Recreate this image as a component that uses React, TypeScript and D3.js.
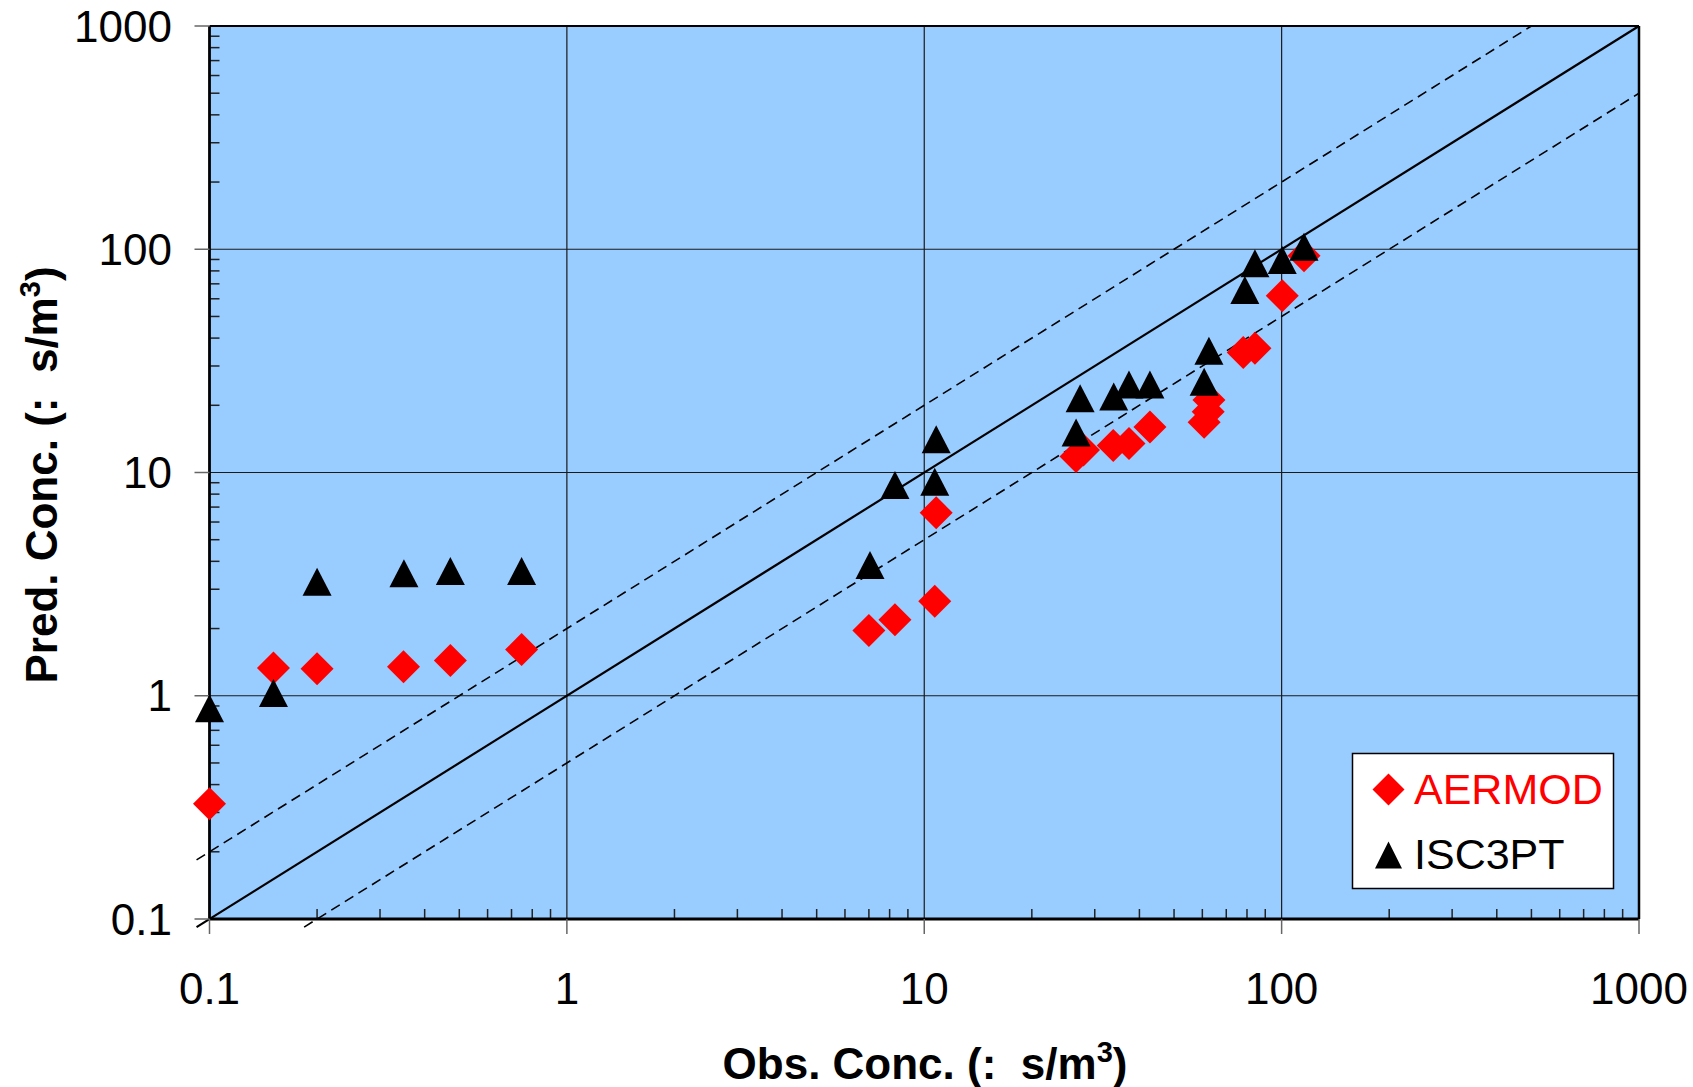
import React from "react";
import * as d3 from "d3";

const W = 1693;
const H = 1087;

const tickValues = [0.1, 1, 10, 100, 1000];
const tickLabels = ["0.1", "1", "10", "100", "1000"];

const aermodObs = [0.1, 0.151, 0.2, 0.349, 0.472, 0.747, 7.0, 8.28, 10.7, 10.8, 26.6, 27.9, 33.8, 37.4, 42.8, 60.7, 62.3, 62.6, 78.1, 84.2, 100.4, 115.5];
const aermodPred = [0.328, 1.33, 1.32, 1.35, 1.44, 1.61, 1.96, 2.19, 2.65, 6.6, 11.8, 12.6, 13.2, 13.5, 16.0, 16.8, 18.7, 21.1, 34.5, 36.0, 61.9, 93.6];

const iscObs = [0.1, 0.151, 0.2, 0.35, 0.472, 0.747, 7.05, 8.28, 10.7, 10.8, 26.6, 27.3, 33.9, 37.4, 42.8, 60.7, 62.6, 78.9, 84.2, 100.4, 115.5];
const iscPred = [0.879, 1.03, 3.24, 3.54, 3.62, 3.62, 3.85, 8.79, 9.1, 14.1, 15.1, 21.5, 21.9, 24.8, 24.8, 25.5, 35.1, 65.7, 86.5, 89.5, 102.7];

const seriesNames = ["AERMOD", "ISC3PT"];
const ratioLines = [1, 2, 0.5];

const FONT = "'Liberation Sans', Arial, Helvetica, sans-serif";

export default function App() {
  const left = 209.5, right = 1639, top = 26, bottom = 919;
  const x = d3.scaleLog().domain([0.1, 1000]).range([left, right]);
  const y = d3.scaleLog().domain([0.1, 1000]).range([bottom, top]);

  const minors: number[] = [];
  for (let dec = 0.1; dec < 1000; dec *= 10) {
    for (let k = 2; k <= 9; k++) minors.push(+(dec * k).toPrecision(6));
  }

  const diamond = (cx: number, cy: number, r: number) =>
    `M${cx},${cy - r}L${cx + r},${cy}L${cx},${cy + r}L${cx - r},${cy}Z`;
  const tri = (cx: number, cy: number, w: number, h: number) =>
    `M${cx},${cy - h / 2}L${cx + w / 2},${cy + h / 2}L${cx - w / 2},${cy + h / 2}Z`;

  const lineFor = (k: number) => {
    let x0 = 0.1, x1 = 1000;
    if (k * x0 < 0.1) x0 = 0.1 / k;
    if (k * x1 > 1000) x1 = 1000 / k;
    const ext = 0.92;
    const xs0 = x0 * ext;
    return { x1: x(xs0), y1: y(k * xs0), x2: x(x1), y2: y(k * x1) };
  };

  return (
    <svg width={W} height={H} style={{ position: "absolute", left: 0, top: 0, background: "#fff" }} fontFamily={FONT}>
      <rect x={left} y={top} width={right - left} height={bottom - top} fill="#99CCFF" />
      {tickValues.slice(1, -1).map((v) => (
        <g key={"g" + v}>
          <line x1={x(v)} x2={x(v)} y1={top} y2={bottom} stroke="#1a1a1a" strokeWidth={1.2} />
          <line x1={left} x2={right} y1={y(v)} y2={y(v)} stroke="#1a1a1a" strokeWidth={1.2} />
        </g>
      ))}
      {minors.map((v) => (
        <g key={"m" + v}>
          <line x1={left} x2={left + 10} y1={y(v)} y2={y(v)} stroke="#222" strokeWidth={1.5} />
          <line x1={x(v)} x2={x(v)} y1={bottom} y2={bottom - 10} stroke="#222" strokeWidth={1.5} />
        </g>
      ))}
      {ratioLines.map((k) => {
        const l = lineFor(k);
        return (
          <line key={"r" + k} {...l} stroke="#000" strokeWidth={k === 1 ? 2.2 : 1.6}
            strokeDasharray={k === 1 ? undefined : "10,6"} />
        );
      })}
      <line x1={left} x2={right} y1={top} y2={top} stroke="#000" strokeWidth={2} />
      <line x1={right} x2={right} y1={top} y2={bottom} stroke="#000" strokeWidth={2.5} />
      <line x1={left} x2={left} y1={top} y2={bottom} stroke="#000" strokeWidth={2.8} />
      <line x1={left} x2={right} y1={bottom} y2={bottom} stroke="#000" strokeWidth={2.8} />
      {tickValues.map((v) => (
        <g key={"t" + v}>
          <line x1={left - 15} x2={left} y1={y(v)} y2={y(v)} stroke="#666" strokeWidth={1.5} />
          <line x1={x(v)} x2={x(v)} y1={bottom} y2={bottom + 15} stroke="#666" strokeWidth={1.5} />
        </g>
      ))}
      {tickValues.map((v, i) => (
        <g key={"l" + v} fontSize={44} fill="#000">
          <text x={172} y={y(v) + 15.5} textAnchor="end">{tickLabels[i]}</text>
          <text x={x(v)} y={1004} textAnchor="middle">{tickLabels[i]}</text>
        </g>
      ))}
      {aermodObs.map((v, i) => (
        <path key={"a" + i} d={diamond(x(v), y(aermodPred[i]), 16.5)} fill="#FF0000" />
      ))}
      {iscObs.map((v, i) => (
        <path key={"i" + i} d={tri(x(v), y(iscPred[i]), 29, 28)} fill="#000" />
      ))}
      <rect x={1352.5} y={753.5} width={261} height={135} fill="#fff" stroke="#000" strokeWidth={1.5} />
      <path d={diamond(1388.5, 789.5, 16)} fill="#FF0000" />
      <text x={1414} y={803.5} fontSize={43} fill="#FF0000">{seriesNames[0]}</text>
      <path d={tri(1388.5, 855, 27, 27)} fill="#000" />
      <text x={1414} y={868.5} fontSize={43} fill="#000">{seriesNames[1]}</text>
      <text x={925} y={1079} textAnchor="middle" fontSize={44} fontWeight="bold" fill="#000">
        Obs. Conc. (:{"\u00A0 "}s/m<tspan dy={-17} fontSize={29}>3</tspan><tspan dy={17}>)</tspan>
      </text>
      <text transform="translate(57,475) rotate(-90)" textAnchor="middle" fontSize={44} fontWeight="bold" fill="#000">
        Pred. Conc. (:{"\u00A0 "}s/m<tspan dy={-17} fontSize={29}>3</tspan><tspan dy={17}>)</tspan>
      </text>
    </svg>
  );
}
